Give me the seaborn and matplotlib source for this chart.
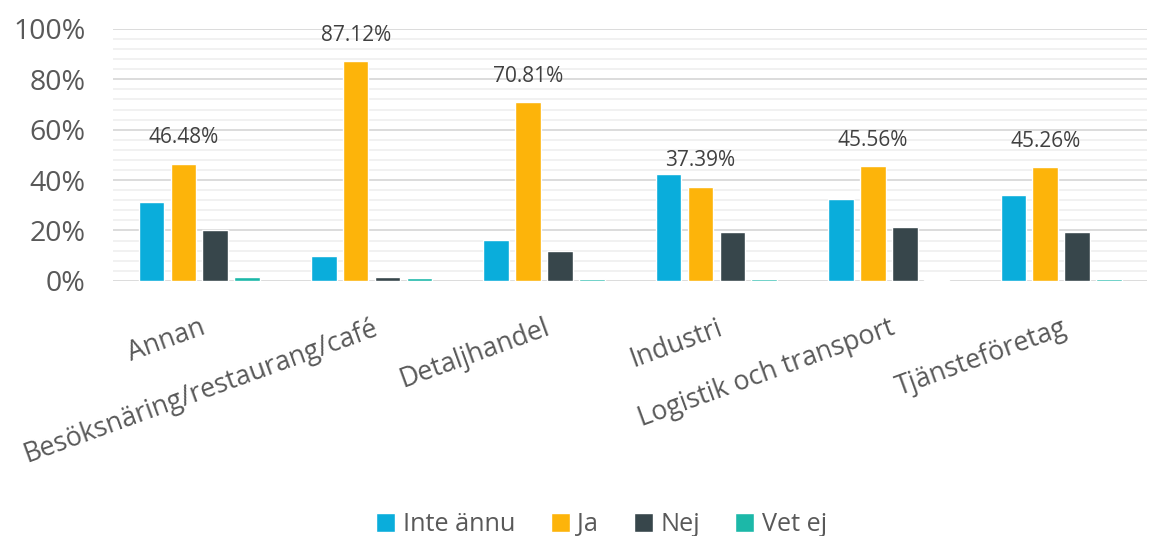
import matplotlib
matplotlib.use("Agg")
import matplotlib.pyplot as plt
import seaborn as sns
import pandas as pd
from matplotlib.ticker import PercentFormatter, MultipleLocator

# data (percent)
categories = ["Annan", "Besöksnäring/restaurang/café", "Detaljhandel",
              "Industri", "Logistik och transport", "Tjänsteföretag"]
answers = ["Inte ännu", "Ja", "Nej", "Vet ej"]
inte_annu = [31.3, 9.9, 16.3, 42.3, 32.4, 34.2]
ja = [46.48, 87.12, 70.81, 37.39, 45.56, 45.26]
nej = [20.1, 1.7, 11.8, 19.4, 21.3, 19.2]
vet_ej = [1.7, 1.0, 0.9, 0.8, 0.4, 0.8]
colors = ["#0aaddb", "#fdb40a", "#37464b", "#1cb8a8"]

rows = []
for name, vals in zip(answers, [inte_annu, ja, nej, vet_ej]):
    for cat, v in zip(categories, vals):
        rows.append({"Bransch": cat, "Svar": name, "Andel": v})
df = pd.DataFrame(rows)

sns.set_style("white")
plt.rcParams["font.family"] = ["Open Sans", "DejaVu Sans"]

fig = plt.figure(figsize=(11.57, 5.36), dpi=100)
ax = fig.add_axes([0.0977, 0.476, 0.894, 0.470])

sns.barplot(data=df, x="Bransch", y="Andel", hue="Svar", order=categories,
            hue_order=answers, palette=colors, width=0.74, gap=0.2,
            saturation=1, ax=ax, legend=True, zorder=3)

ax.set_ylim(0, 100)
ax.set_xlim(-0.5, len(categories) - 0.5)
ax.yaxis.set_major_locator(MultipleLocator(20))
ax.yaxis.set_minor_locator(MultipleLocator(4))
ax.yaxis.set_major_formatter(PercentFormatter(100, decimals=0))
ax.grid(axis="y", which="major", color="#d9d9d9", linewidth=1.3, zorder=0)
ax.grid(axis="y", which="minor", color="#f0f0f0", linewidth=1.3, zorder=0)
ax.set_axisbelow(True)
for s in ["top", "right", "left", "bottom"]:
    ax.spines[s].set_visible(False)

ax.set_xlabel("")
ax.set_ylabel("")
ax.tick_params(axis="y", length=0, pad=20, labelsize=20.5, labelcolor="#595959")
ax.tick_params(axis="x", length=0, pad=24, labelsize=19.3, labelcolor="#595959")
for lbl in ax.get_xticklabels():
    lbl.set_rotation(20)
    lbl.set_ha("right")
    lbl.set_va("top")
    lbl.set_rotation_mode("anchor")

# value labels on the "Ja" bars
ax.bar_label(ax.containers[1], labels=[f"{v:.2f}%" for v in ja], padding=11,
             fontsize=15, color="#404040")

handles, labels = ax.get_legend_handles_labels()
ax.legend_.remove()
fig.legend(handles, labels, loc="lower center", bbox_to_anchor=(0.52, -0.045),
           ncol=4, frameon=False, fontsize=18.2, labelcolor="#595959",
           handlelength=0.75, handleheight=0.75, handletextpad=0.3,
           columnspacing=1.4)

fig.savefig("out.png", dpi=100)
